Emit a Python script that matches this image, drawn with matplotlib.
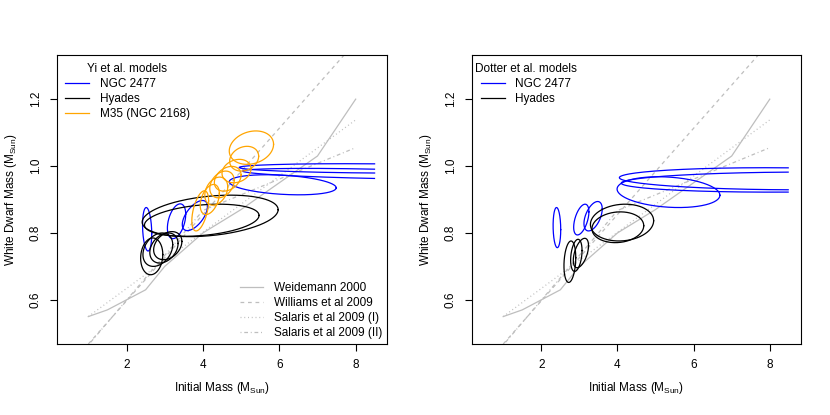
import numpy as np
import matplotlib.pyplot as plt
from matplotlib.lines import Line2D

plt.rcParams['font.family'] = ['Liberation Sans', 'DejaVu Sans']
plt.rcParams['mathtext.fontset'] = 'custom'
plt.rcParams['mathtext.rm'] = 'Liberation Sans'
plt.rcParams['mathtext.it'] = 'Liberation Sans'

# initial-final mass relations
weid_mi = [1.0, 1.5, 2.5, 3.0, 4.0, 5.0, 6.0, 7.0, 8.0]
weid_mf = [0.55, 0.57, 0.63, 0.70, 0.80, 0.87, 0.95, 1.03, 1.20]
ifmr_mi = [1.0, 4.0, 8.0]

# confidence ellipses: centre (x, y), half widths (sx, sy), correlation
yi_ngc_x = [2.54, 3.31, 3.79, 6.09, 8.40, 8.40]
yi_ngc_y = [0.811, 0.835, 0.852, 0.944, 0.993, 0.977]
yi_ngc_sx = [0.12, 0.24, 0.33, 1.40, 3.45, 3.36]
yi_ngc_sy = [0.065, 0.052, 0.045, 0.030, 0.014, 0.016]
yi_ngc_r = [-0.2, 0.4, 0.6, -0.3, -0.2, -0.5]

yi_hya_x = [4.19, 3.97, 2.66, 2.82, 2.98, 3.08]
yi_hya_y = [0.851, 0.838, 0.730, 0.750, 0.755, 0.762]
yi_hya_sx = [1.78, 1.50, 0.29, 0.39, 0.37, 0.37]
yi_hya_sy = [0.062, 0.048, 0.055, 0.050, 0.045, 0.042]
yi_hya_r = [0.3, 0.3, 0.1, 0.3, 0.3, 0.3]

yi_m35_x = [3.93, 4.18, 4.35, 4.50, 4.65, 4.88, 5.08, 5.27]
yi_m35_y = [0.866, 0.900, 0.925, 0.945, 0.962, 0.985, 1.022, 1.055]
yi_m35_sx = [0.22, 0.25, 0.30, 0.32, 0.35, 0.38, 0.38, 0.58]
yi_m35_sy = [0.060, 0.045, 0.042, 0.040, 0.037, 0.035, 0.037, 0.050]
yi_m35_r = [0.5, 0.4, 0.3, 0.3, 0.3, 0.2, 0.2, 0.2]

do_ngc_x = [2.41, 3.05, 3.36, 5.34, 8.30, 8.50]
do_ngc_y = [0.816, 0.840, 0.850, 0.922, 0.962, 0.952]
do_ngc_sx = [0.10, 0.20, 0.24, 1.35, 4.25, 4.40]
do_ngc_sy = [0.060, 0.046, 0.044, 0.046, 0.033, 0.030]
do_ngc_r = [-0.1, 0.5, 0.5, -0.2, -0.1, 0.1]

do_hya_x = [4.12, 4.01, 2.75, 2.92, 3.04]
do_hya_y = [0.831, 0.817, 0.714, 0.733, 0.740]
do_hya_sx = [0.83, 0.68, 0.155, 0.15, 0.20]
do_hya_sy = [0.055, 0.046, 0.062, 0.048, 0.044]
do_hya_r = [0.1, 0.1, 0.2, 0.3, 0.5]

GRAY = '#BEBEBE'
XMAX_GRID = 8.5


def draw_ellipses(ax, xs, ys, sxs, sys_, rs, color):
    t = np.linspace(0, 2 * np.pi, 400)
    for cx, cy, sx, sy, r in zip(xs, ys, sxs, sys_, rs):
        ex = cx + sx * np.cos(t)
        ey = cy + sy * (r * np.cos(t) + np.sqrt(1 - r ** 2) * np.sin(t))
        # contours were computed on a grid ending at 8.5
        ey = np.where(ex > XMAX_GRID, np.nan, ey)
        ax.plot(ex, ey, color=color, lw=0.9)


def draw_ifmr(ax):
    mi = np.array(ifmr_mi)
    ax.plot(weid_mi, weid_mf, color=GRAY, lw=0.9, ls='-')
    ax.plot(mi, 0.339 + 0.129 * mi, color=GRAY, lw=0.9, ls=(0, (3, 3)))
    ax.plot(mi, 0.466 + 0.084 * mi, color=GRAY, lw=0.9, ls=(0, (0.8, 2.2)))
    sal2 = np.where(mi <= 4, 0.331 + 0.134 * mi, 0.679 + 0.047 * mi)
    ax.plot(mi, sal2, color=GRAY, lw=0.9, ls=(0, (0.8, 2.2, 3, 2.2)))


def style_axes(ax):
    ax.set_xlim(0.18, 8.82)
    ax.set_ylim(0.468, 1.332)
    ax.set_xticks([2, 4, 6, 8])
    ax.set_yticks([0.6, 0.8, 1.0, 1.2])
    ax.set_yticklabels(['0.6', '0.8', '1.0', '1.2'], rotation=90, va='center')
    ax.tick_params(direction='out', length=5, width=0.8, labelsize=8.5)
    ax.tick_params(axis='x', pad=6)
    ax.tick_params(axis='y', pad=6)
    for s in ax.spines.values():
        s.set_linewidth(0.8)
    ax.set_xlabel(r'Initial Mass (M$_{\mathrm{Sun}}$)', fontsize=8.5, labelpad=6)
    ax.set_ylabel(r'White Dwarf Mass (M$_{\mathrm{Sun}}$)', fontsize=8.5, labelpad=8)


fig = plt.figure(figsize=(8.3, 4.15), dpi=100)
ax1 = fig.add_axes([57 / 830, 71 / 415, 330 / 830, 289 / 415])
ax2 = fig.add_axes([472 / 830, 71 / 415, 329 / 830, 289 / 415])

for ax in (ax1, ax2):
    draw_ifmr(ax)
    style_axes(ax)

draw_ellipses(ax1, yi_ngc_x, yi_ngc_y, yi_ngc_sx, yi_ngc_sy, yi_ngc_r, 'blue')
draw_ellipses(ax1, yi_hya_x, yi_hya_y, yi_hya_sx, yi_hya_sy, yi_hya_r, 'black')
draw_ellipses(ax1, yi_m35_x, yi_m35_y, yi_m35_sx, yi_m35_sy, yi_m35_r, 'orange')

draw_ellipses(ax2, do_ngc_x, do_ngc_y, do_ngc_sx, do_ngc_sy, do_ngc_r, 'blue')
draw_ellipses(ax2, do_hya_x, do_hya_y, do_hya_sx, do_hya_sy, do_hya_r, 'black')

leg_kw = dict(frameon=False, fontsize=8.5, title_fontsize=8.5, handlelength=2.0,
              handletextpad=0.9, labelspacing=0.25)

h1 = [Line2D([], [], color=c, lw=0.9) for c in ('blue', 'black', 'orange')]
h2 = [Line2D([], [], color=c, lw=0.9) for c in ('blue', 'black')]
h3 = [Line2D([], [], color=GRAY, lw=0.9, ls=s) for s in
      ('-', (0, (3, 3)), (0, (0.8, 2.2)), (0, (0.8, 2.2, 3, 2.2)))]

leg3 = ax1.legend(h3, ['Weidemann 2000', 'Williams et al 2009',
                       'Salaris et al 2009 (I)', 'Salaris et al 2009 (II)'],
                  loc='lower right', borderaxespad=0.0, **leg_kw)
ax1.add_artist(leg3)
ax1.legend(h1, ['NGC 2477', 'Hyades', 'M35 (NGC 2168)'], loc='upper left',
           title='Yi et al. models', borderaxespad=0.3, **leg_kw)

ax2.legend(h2, ['NGC 2477', 'Hyades'], loc='upper left',
           bbox_to_anchor=(-0.005, 0.988), title='Dotter et al. models',
           borderaxespad=0.0, **leg_kw)

fig.savefig('out.png', dpi=100)
